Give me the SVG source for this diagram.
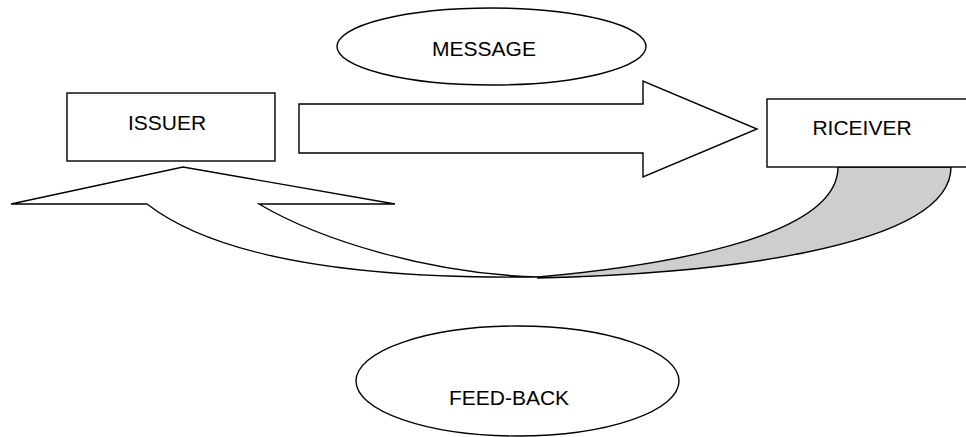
<svg xmlns="http://www.w3.org/2000/svg" width="966" height="437" viewBox="0 0 966 437">
  <style>
    .shape { fill: #ffffff; stroke: #000000; stroke-width: 1.4; stroke-linejoin: miter; }
    .back { fill: #cecece; stroke: #000000; stroke-width: 1.4; }
    .label { font-family: "Liberation Sans", Arial, sans-serif; font-size: 21px; fill: #000000; text-anchor: middle; }
  </style>
  <rect width="966" height="437" fill="#ffffff"/>

  <g id="connectors">
    <!-- block arrow: issuer to receiver -->
    <polygon class="shape" points="299,104 643,104 643,81 757,129 643,177 643,153 299,153"/>
    <!-- curved feed-back arrow: shaded back part -->
    <path class="back" d="M538,277 C650,267 838,240 838,167 L951,167 C951,250 700,275 538,278 Z"/>
    <!-- curved feed-back arrow: front part with head -->
    <path class="shape" d="M11,204 L183,167 L395,204 L259,204 C320,240 430,274 538,277 C370,279 222,262 147,204 Z"/>
  </g>

  <g id="issuer">
    <rect class="shape" x="67" y="93" width="208" height="68"/>
    <text class="label" x="167" y="130">ISSUER</text>
  </g>

  <g id="receiver">
    <rect class="shape" x="767" y="99" width="210" height="68"/>
    <text class="label" x="862" y="135">RICEIVER</text>
  </g>

  <g id="message">
    <ellipse class="shape" cx="491.5" cy="46.5" rx="154.5" ry="38.5"/>
    <text class="label" x="484" y="56">MESSAGE</text>
  </g>

  <g id="feedback">
    <ellipse class="shape" cx="517.5" cy="381" rx="161.5" ry="55"/>
    <text class="label" x="509" y="405">FEED-BACK</text>
  </g>
</svg>
